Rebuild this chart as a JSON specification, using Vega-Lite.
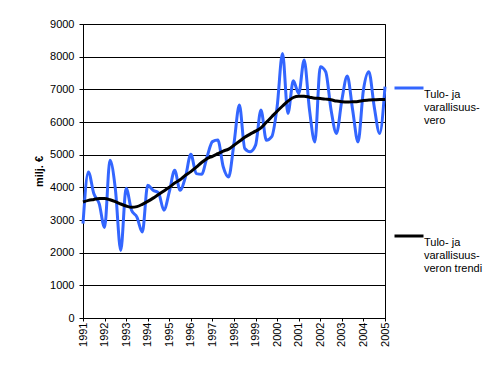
{
  "$schema": "https://vega.github.io/schema/vega-lite/v6.json",
  "width": 302,
  "height": 294,
  "autosize": {"type": "none"},
  "padding": {"left": 83, "top": 24, "right": 105, "bottom": 50},
  "background": "white",
  "config": {
    "font": "Liberation Sans",
    "view": {"stroke": "black", "strokeWidth": 1},
    "axis": {"labelFont": "Liberation Sans", "labelFontSize": 11, "labelColor": "black", "domainColor": "black", "tickColor": "black", "gridColor": "black", "gridOpacity": 1, "domainWidth": 1, "tickWidth": 1, "gridWidth": 1}
  },
  "data": {"values": [
    {"t":1991,"vero":2890,"trendi":3550},{"t":1991.25,"vero":4470,"trendi":3600},{"t":1991.5,"vero":3810,"trendi":3630},{"t":1991.75,"vero":3500,"trendi":3660},
    {"t":1992,"vero":2770,"trendi":3660},{"t":1992.25,"vero":4830,"trendi":3620},{"t":1992.5,"vero":3950,"trendi":3560},{"t":1992.75,"vero":2070,"trendi":3490},
    {"t":1993,"vero":3970,"trendi":3430},{"t":1993.25,"vero":3300,"trendi":3390},{"t":1993.5,"vero":3090,"trendi":3410},{"t":1993.75,"vero":2630,"trendi":3480},
    {"t":1994,"vero":4060,"trendi":3570},{"t":1994.25,"vero":3910,"trendi":3670},{"t":1994.5,"vero":3830,"trendi":3780},{"t":1994.75,"vero":3300,"trendi":3890},
    {"t":1995,"vero":3860,"trendi":4000},{"t":1995.25,"vero":4520,"trendi":4130},{"t":1995.5,"vero":3910,"trendi":4230},{"t":1995.75,"vero":4320,"trendi":4370},
    {"t":1996,"vero":5010,"trendi":4480},{"t":1996.25,"vero":4420,"trendi":4620},{"t":1996.5,"vero":4400,"trendi":4760},{"t":1996.75,"vero":4930,"trendi":4880},
    {"t":1997,"vero":5400,"trendi":4950},{"t":1997.25,"vero":5450,"trendi":5030},{"t":1997.5,"vero":4630,"trendi":5110},{"t":1997.75,"vero":4320,"trendi":5170},
    {"t":1998,"vero":5350,"trendi":5290},{"t":1998.25,"vero":6520,"trendi":5410},{"t":1998.5,"vero":5190,"trendi":5530},{"t":1998.75,"vero":5090,"trendi":5630},
    {"t":1999,"vero":5290,"trendi":5720},{"t":1999.25,"vero":6370,"trendi":5820},{"t":1999.5,"vero":5440,"trendi":5990},{"t":1999.75,"vero":5550,"trendi":6160},
    {"t":2000,"vero":6470,"trendi":6330},{"t":2000.25,"vero":8100,"trendi":6490},{"t":2000.5,"vero":6260,"trendi":6640},{"t":2000.75,"vero":7260,"trendi":6750},
    {"t":2001,"vero":6870,"trendi":6790},{"t":2001.25,"vero":7900,"trendi":6790},{"t":2001.5,"vero":6370,"trendi":6760},{"t":2001.75,"vero":5390,"trendi":6730},
    {"t":2002,"vero":7690,"trendi":6720},{"t":2002.25,"vero":7540,"trendi":6700},{"t":2002.5,"vero":6370,"trendi":6680},{"t":2002.75,"vero":5650,"trendi":6640},
    {"t":2003,"vero":6670,"trendi":6620},{"t":2003.25,"vero":7410,"trendi":6610},{"t":2003.5,"vero":6370,"trendi":6620},{"t":2003.75,"vero":5390,"trendi":6630},
    {"t":2004,"vero":6980,"trendi":6660},{"t":2004.25,"vero":7540,"trendi":6670},{"t":2004.5,"vero":6470,"trendi":6680},{"t":2004.75,"vero":5650,"trendi":6690},
    {"t":2005,"vero":7080,"trendi":6690}
  ]},
  "transform": [{"fold": ["vero", "trendi"], "as": ["sarja", "arvo"]}],
  "mark": {"type": "line", "strokeWidth": 3, "interpolate": "monotone"},
  "encoding": {
    "x": {
      "field": "t", "type": "quantitative",
      "scale": {"domain": [1991, 2005], "nice": false, "zero": false},
      "axis": {
        "title": null, "grid": false, "format": "d", "labelAngle": 270,
        "values": [1991,1991.25,1991.5,1991.75,1992,1992.25,1992.5,1992.75,1993,1993.25,1993.5,1993.75,1994,1994.25,1994.5,1994.75,1995,1995.25,1995.5,1995.75,1996,1996.25,1996.5,1996.75,1997,1997.25,1997.5,1997.75,1998,1998.25,1998.5,1998.75,1999,1999.25,1999.5,1999.75,2000,2000.25,2000.5,2000.75,2001,2001.25,2001.5,2001.75,2002,2002.25,2002.5,2002.75,2003,2003.25,2003.5,2003.75,2004,2004.25,2004.5,2004.75,2005],
        "labelExpr": "datum.value % 1 == 0 ? datum.label : ''",
        "labelOverlap": false, "labelFlush": false, "tickSize": 3, "labelPadding": 1
      }
    },
    "y": {
      "field": "arvo", "type": "quantitative",
      "scale": {"domain": [0, 9000], "nice": false},
      "axis": {"title": "milj. €", "format": "d", "titleFont": "Liberation Sans", "titleFontSize": 11, "titleFontWeight": "bold", "titleColor": "black", "titlePadding": 5, "values": [0,1000,2000,3000,4000,5000,6000,7000,8000,9000], "tickSize": 4, "labelPadding": 5, "grid": true}
    },
    "color": {
      "field": "sarja", "type": "nominal",
      "scale": {"domain": ["vero", "trendi"], "range": ["#3366FF", "#000000"]},
      "legend": {
        "title": null, "orient": "none", "legendX": 310, "legendY": 48,
        "symbolType": "stroke", "symbolSize": 841, "symbolStrokeWidth": 3,
        "labelFont": "Liberation Sans", "labelFontSize": 11, "labelColor": "black", "labelOffset": -1,
        "labelBaseline": "line-bottom", "rowPadding": 94, "labelLimit": 200,
        "labelExpr": "datum.label == 'vero' ? ['', 'Tulo- ja', 'varallisuus-', 'vero'] : ['', 'Tulo- ja', 'varallisuus-', 'veron trendi']"
      }
    }
  }
}
